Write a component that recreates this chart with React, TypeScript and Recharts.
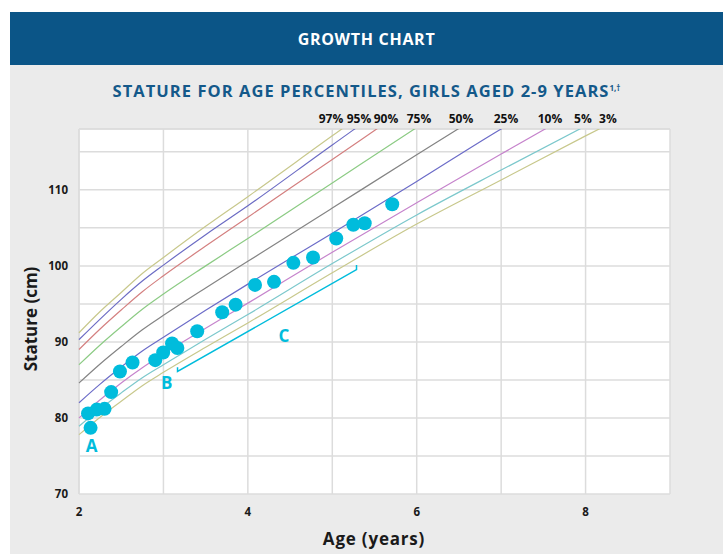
import React from "react";
import {
  ComposedChart,
  Line,
  Scatter,
  XAxis,
  YAxis,
  CartesianGrid,
  ReferenceLine,
} from "recharts";

// ---- Data ----
const ages = [2, 2.25, 2.5, 2.75, 3, 3.5, 4, 5, 6, 7, 8, 9];
const p97 = [91.2, 94.0, 96.5, 99.0, 101.1, 105.2, 109.1, 117.1, 125.0, 132.0, 139.0, 146.0];
const p95 = [90.3, 93.0, 95.6, 98.0, 100.1, 104.1, 107.9, 115.9, 123.7, 130.5, 137.5, 144.0];
const p90 = [89.0, 91.7, 94.2, 96.6, 98.7, 102.6, 106.4, 114.0, 121.6, 129.0, 136.0, 142.0];
const p75 = [87.0, 89.6, 92.0, 94.3, 96.3, 100.0, 103.6, 110.9, 118.2, 125.4, 132.0, 138.0];
const p50 = [84.6, 87.1, 89.4, 91.6, 93.5, 97.1, 100.6, 107.6, 114.6, 121.5, 128.0, 134.2];
const p25 = [82.0, 84.45, 86.7, 88.8, 90.6, 94.15, 97.6, 104.3, 111.1, 118.0, 124.3, 130.4];
const p10 = [80.0, 82.4, 84.6, 86.6, 88.4, 91.8, 95.1, 101.8, 108.3, 114.7, 121.0, 127.0];
const p5 = [78.9, 81.2, 83.3, 85.3, 87.0, 90.35, 93.6, 100.3, 106.7, 112.6, 118.4, 124.0];
const p3 = [77.8, 80.1, 82.2, 84.25, 86.0, 89.3, 92.5, 99.1, 105.5, 111.3, 117.1, 122.7];

const pointAges = [2.107, 2.137, 2.21, 2.303, 2.381, 2.485, 2.634, 2.903, 2.997, 3.102, 3.165, 3.4, 3.696, 3.855, 4.085, 4.31, 4.539, 4.772, 5.047, 5.249, 5.384, 5.71];
const pointCm = [80.6, 78.7, 81.1, 81.2, 83.4, 86.1, 87.3, 87.6, 88.6, 89.8, 89.2, 91.4, 93.9, 94.9, 97.5, 97.9, 100.4, 101.1, 103.6, 105.4, 105.6, 108.1];

const pctLabels = ["97%", "95%", "90%", "75%", "50%", "25%", "10%", "5%", "3%"];
const pctLabelAges = [4.985, 5.316, 5.636, 6.027, 6.524, 7.057, 7.579, 7.969, 8.265];
const pctLabelCm = 118;

const bracketAges = [3.167, 3.167, 5.287, 5.287];
const bracketCm = [86.66, 86.11, 99.5, 100.12];

const letterText = ["A", "B", "C"];
const letterAges = [2.148, 3.04, 4.428];
const letterCm = [76.44, 84.6, 90.9];

const xTicks = [2, 3, 4, 5, 6, 7, 8, 9];
const yTicks = [70, 75, 80, 85, 90, 95, 100, 105, 110, 115];

// ---- Tables built from arrays ----
const curveData = ages.map((a, i) => ({
  age: a,
  p97: p97[i],
  p95: p95[i],
  p90: p90[i],
  p75: p75[i],
  p50: p50[i],
  p25: p25[i],
  p10: p10[i],
  p5: p5[i],
  p3: p3[i],
}));
const points = pointAges.map((a, i) => ({ age: a, cm: pointCm[i] }));
const bracket = bracketAges.map((a, i) => ({ age: a, cm: bracketCm[i] }));
const letters = letterAges.map((a, i) => ({ age: a, cm: letterCm[i], t: letterText[i] }));
const pctLabelData = pctLabelAges.map((a, i) => ({ age: a, cm: pctLabelCm, t: pctLabels[i] }));

const series = [
  { key: "p97", color: "#c8c88c" },
  { key: "p95", color: "#6c6cc4" },
  { key: "p90", color: "#d48080" },
  { key: "p75", color: "#8ccb84" },
  { key: "p50", color: "#848484" },
  { key: "p25", color: "#6c6cc8" },
  { key: "p10", color: "#c684cc" },
  { key: "p5", color: "#7cc8cc" },
  { key: "p3", color: "#c8c88c" },
];

const CYAN = "#00bcdc";
const FONT = "'Open Sans', sans-serif";
const tickStyle = { fill: "#1a1a1a", fontWeight: 700, fontSize: 11.5, fontFamily: FONT };

export default function App() {
  return (
    <div
      style={{
        position: "absolute",
        left: 0,
        top: 0,
        width: 723,
        height: 554,
        background: "#ffffff",
        overflow: "hidden",
        fontFamily: FONT,
      }}
    >
      <div style={{ position: "absolute", left: 10, top: 12, width: 713, height: 542, background: "#ebebeb" }} />
      <div
        style={{
          position: "absolute",
          left: 10,
          top: 12,
          width: 713,
          height: 53,
          background: "#0b5587",
          color: "#ffffff",
          fontWeight: 700,
          fontSize: 16,
          letterSpacing: 0.7,
          display: "flex",
          alignItems: "center",
          justifyContent: "center",
        }}
      >
        GROWTH CHART
      </div>
      <div
        style={{
          position: "absolute",
          left: 10,
          width: 713,
          top: 80,
          textAlign: "center",
          color: "#14598a",
          fontWeight: 700,
          fontSize: 16.5,
          letterSpacing: 1.05,
          lineHeight: "22px",
          whiteSpace: "nowrap",
        }}
      >
        STATURE FOR AGE PERCENTILES, GIRLS AGED 2-9 YEARS
        <sup style={{ fontSize: 8, letterSpacing: 0, verticalAlign: "top", position: "relative", top: -3 }}>1,†</sup>
      </div>
      <div style={{ position: "absolute", left: 0, top: 0 }}>
        <ComposedChart width={723} height={554} data={curveData} margin={{ top: 129, right: 53, bottom: 30, left: 19 }}>
          <CartesianGrid stroke="#dcdcdc" strokeWidth={1.5} fill="#ffffff" />
          <XAxis
            dataKey="age"
            type="number"
            domain={[2, 9]}
            ticks={xTicks}
            interval={0}
            tickFormatter={(v: number) => (v % 2 === 0 ? String(v) : "")}
            tick={tickStyle}
            tickSize={0}
            tickMargin={14}
            axisLine={false}
            height={30}
          />
          <YAxis
            type="number"
            domain={[70, 118]}
            allowDataOverflow
            ticks={yTicks}
            interval={0}
            tickFormatter={(v: number) => (v % 10 === 0 ? String(v) : "")}
            tick={tickStyle}
            tickSize={0}
            tickMargin={11}
            axisLine={false}
            width={60}
          />
          <YAxis yAxisId="free" type="number" domain={[70, 118]} hide />
          <ReferenceLine y={118} stroke="#dcdcdc" strokeWidth={1.5} />
          <ReferenceLine x={2} stroke="#dcdcdc" strokeWidth={1.5} />
          {series.map((s) => (
            <Line
              key={s.key}
              dataKey={s.key}
              type="monotone"
              stroke={s.color}
              strokeWidth={1.2}
              dot={false}
              activeDot={false}
              isAnimationActive={false}
            />
          ))}
          <Line
            data={bracket}
            dataKey="cm"
            type="linear"
            stroke={CYAN}
            strokeWidth={1.5}
            dot={false}
            activeDot={false}
            isAnimationActive={false}
          />
          <Scatter
            data={points}
            dataKey="cm"
            yAxisId="free"
            fill={CYAN}
            isAnimationActive={false}
            shape={(p: any) => <circle cx={p.cx} cy={p.cy} r={7} fill={CYAN} />}
          />
          <Scatter
            data={letters}
            dataKey="cm"
            yAxisId="free"
            fill={CYAN}
            isAnimationActive={false}
            shape={(p: any) => (
              <text
                x={p.cx}
                y={p.cy}
                textAnchor="middle"
                dominantBaseline="central"
                fill={CYAN}
                fontWeight={700}
                fontSize={17}
                fontFamily={FONT}
              >
                {p.payload.t}
              </text>
            )}
          />
          <Scatter
            data={pctLabelData}
            dataKey="cm"
            yAxisId="free"
            fill="#111"
            isAnimationActive={false}
            shape={(p: any) => (
              <text
                x={p.cx}
                y={p.cy - 11}
                textAnchor="middle"
                dominantBaseline="central"
                fill="#111"
                fontWeight={700}
                fontSize={12}
                fontFamily={FONT}
              >
                {p.payload.t}
              </text>
            )}
          />
        </ComposedChart>
      </div>
      <div
        style={{
          position: "absolute",
          left: 30,
          top: 319,
          transform: "translate(-50%, -50%) rotate(-90deg)",
          whiteSpace: "nowrap",
          fontWeight: 700,
          fontSize: 17,
          color: "#1a1a1a",
        }}
      >
        Stature (cm)
      </div>
      <div
        style={{
          position: "absolute",
          left: 374,
          top: 538,
          transform: "translate(-50%, -50%)",
          whiteSpace: "nowrap",
          fontWeight: 700,
          fontSize: 17,
          letterSpacing: 0.8,
          color: "#1a1a1a",
        }}
      >
        Age (years)
      </div>
    </div>
  );
}
